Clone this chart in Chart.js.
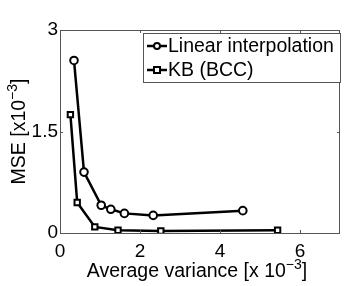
<!DOCTYPE html>
<html>
<head>
<meta charset="utf-8">
<script src="https://cdn.jsdelivr.net/npm/chart.js@4"></script>
<style>
    html, body { margin: 0; padding: 0; background: #fff; }
    #wrap { width: 346px; height: 286px; }
</style>
</head>
<body>
<div id="wrap"><canvas id="mseChart" width="346" height="286"></canvas></div>
<script>
// =====================================
// DATA
// =====================================

const linearX = [0.35, 0.60, 1.03, 1.27, 1.61, 2.33, 4.57];
const linearY = [2.55, 0.90, 0.41, 0.35, 0.29, 0.26, 0.33];

const kbX = [0.26, 0.43, 0.87, 1.45, 2.52, 5.44];
const kbY = [1.75, 0.45, 0.09, 0.04, 0.03, 0.04];

const xTicks = [0, 2, 4, 6];
const yTicks = [0, 1.5, 3];

const seriesNames = ["Linear interpolation", "KB (BCC)"];

const FONT = "Liberation Sans, Arial, Helvetica, sans-serif";
const TXT = "19.5px " + FONT;
const SUP = "14px " + FONT;

function toPoints(xs, ys) {
    return xs.map((x, i) => ({ x: x, y: ys[i] }));
}

// draws "main" + superscript "sup" + "end" centred on cx at baseline by
function drawSupTitle(ctx, main, sup, end, cx, by) {
    ctx.font = TXT;
    const w1 = ctx.measureText(main).width;
    const w3 = ctx.measureText(end).width;
    ctx.font = SUP;
    const w2 = ctx.measureText(sup).width;
    const sx = cx - (w1 + w2 + w3) / 2;
    ctx.textAlign = "left";
    ctx.textBaseline = "alphabetic";
    ctx.font = TXT;
    ctx.fillText(main, sx, by);
    ctx.fillText(end, sx + w1 + w2, by);
    ctx.font = SUP;
    ctx.fillText(sup, sx + w1, by - 8);
}

// =====================================
// PLUGIN: matlab-like box, inward ticks, titles, legend
// =====================================

const matlabFrame = {
    id: "matlabFrame",
    afterDraw(chart) {
        const ctx = chart.ctx;
        const a = chart.chartArea;
        const xs = chart.scales.x;
        const ys = chart.scales.y;

        ctx.save();

        // box
        ctx.strokeStyle = "#555";
        ctx.lineWidth = 1;
        ctx.strokeRect(Math.round(a.left) + 0.5, Math.round(a.top) + 0.5,
            Math.round(a.right - a.left) - 1, Math.round(a.bottom - a.top));

        // inward ticks
        ctx.beginPath();
        xTicks.forEach(v => {
            const px = Math.round(xs.getPixelForValue(v)) + 0.5;
            ctx.moveTo(px, a.bottom); ctx.lineTo(px, a.bottom - 3);
            ctx.moveTo(px, a.top); ctx.lineTo(px, a.top + 3);
        });
        yTicks.forEach(v => {
            const py = Math.round(ys.getPixelForValue(v)) + 0.5;
            ctx.moveTo(a.left, py); ctx.lineTo(a.left + 3, py);
            ctx.moveTo(a.right, py); ctx.lineTo(a.right - 3, py);
        });
        ctx.stroke();

        // axis titles
        ctx.fillStyle = "#000";
        drawSupTitle(ctx, "Average variance [x 10", "\u22123", "]", 197, 277);

        ctx.save();
        ctx.translate(25, (a.top + a.bottom) / 2);
        ctx.rotate(-Math.PI / 2);
        drawSupTitle(ctx, "MSE [x10", "\u22123", "]", 0, 0);
        ctx.restore();

        // legend
        const lx = 143, ly = 33, lw = 197, lh = 49;
        ctx.fillStyle = "#fff";
        ctx.fillRect(lx, ly, lw, lh);
        ctx.strokeStyle = "#555";
        ctx.lineWidth = 1;
        ctx.strokeRect(lx + 0.5, ly + 0.5, lw, lh);

        const rowsY = [46, 70];
        chart.data.datasets.forEach((ds, i) => {
            const cy = rowsY[i];
            ctx.strokeStyle = "#000";
            ctx.lineWidth = 2.5;
            ctx.beginPath();
            ctx.moveTo(147, cy); ctx.lineTo(167, cy);
            ctx.stroke();
            ctx.fillStyle = "#fff";
            ctx.lineWidth = 2;
            if (ds.pointStyle === "rect") {
                ctx.fillRect(154, cy - 3, 6, 6);
                ctx.strokeRect(154, cy - 3, 6, 6);
            } else {
                ctx.beginPath();
                ctx.arc(157, cy, 3, 0, Math.PI * 2);
                ctx.fill();
                ctx.stroke();
            }
            ctx.fillStyle = "#000";
            ctx.font = TXT;
            ctx.textAlign = "left";
            ctx.textBaseline = "middle";
            ctx.fillText(seriesNames[i], 168, cy + 1);
        });

        ctx.restore();
    }
};

// =====================================
// CHART
// =====================================

new Chart(document.getElementById("mseChart").getContext("2d"), {
    type: "scatter",
    data: {
        datasets: [
            {
                label: seriesNames[0],
                data: toPoints(linearX, linearY),
                showLine: true,
                borderColor: "#000",
                borderWidth: 2.5,
                pointStyle: "circle",
                pointRadius: 3.8,
                pointBorderWidth: 2,
                pointBackgroundColor: "#fff",
                pointBorderColor: "#000"
            },
            {
                label: seriesNames[1],
                data: toPoints(kbX, kbY),
                showLine: true,
                borderColor: "#000",
                borderWidth: 2.5,
                pointStyle: "rect",
                pointRadius: 3.8,
                pointBorderWidth: 2,
                pointBackgroundColor: "#fff",
                pointBorderColor: "#000"
            }
        ]
    },
    options: {
        responsive: false,
        animation: false,
        layout: { padding: { left: 0, right: 5, top: 30, bottom: 0 } },
        plugins: {
            legend: { display: false },
            tooltip: { enabled: false }
        },
        scales: {
            x: {
                type: "linear",
                min: 0,
                max: 7,
                afterFit(scale) { scale.height = 53; },
                afterBuildTicks(scale) { scale.ticks = xTicks.map(v => ({ value: v })); },
                grid: { display: false, drawTicks: false },
                border: { display: false },
                ticks: {
                    color: "#000",
                    padding: 7,
                    font: { family: FONT, size: 19 }
                }
            },
            y: {
                type: "linear",
                min: 0,
                max: 3,
                afterFit(scale) { scale.width = 60; },
                afterBuildTicks(scale) { scale.ticks = yTicks.map(v => ({ value: v })); },
                grid: { display: false, drawTicks: false },
                border: { display: false },
                ticks: {
                    color: "#000",
                    padding: 2,
                    font: { family: FONT, size: 19 }
                }
            }
        }
    },
    plugins: [matlabFrame]
});
</script>
</body>
</html>
